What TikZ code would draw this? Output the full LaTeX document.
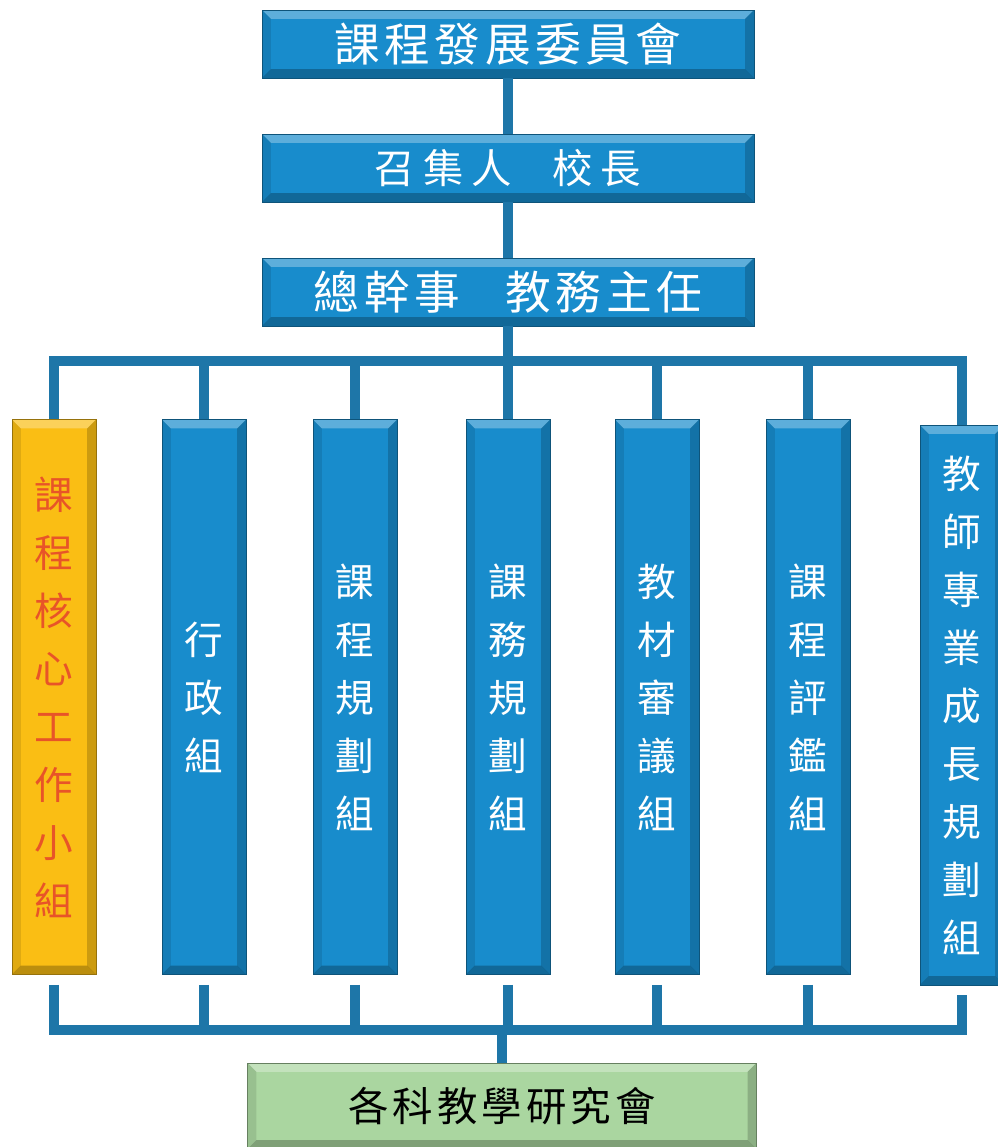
\documentclass[tikz,border=0pt]{standalone}
\usepackage{fontspec}
\newfontfamily\cjk{Noto Sans CJK TC}
\newfontfamily\cjkwide[LetterSpace=10]{Noto Sans CJK TC}
\newfontfamily\cjkwider[LetterSpace=20]{Noto Sans CJK TC}
\definecolor{boxblue}{RGB}{24,140,204}
\definecolor{linkblue}{RGB}{30,118,168}
\definecolor{coregold}{RGB}{250,190,20}
\definecolor{coretext}{RGB}{232,84,40}
\definecolor{resgreen}{RGB}{170,214,160}
\tikzset{
  bevel/.style={path picture={
    \coordinate (pa) at (path picture bounding box.south west);
    \coordinate (pb) at (path picture bounding box.north east);
    \coordinate (pc) at (pa|-pb);
    \coordinate (pd) at (pb|-pa);
    \fill[white, opacity=.3] (pc) -- (pb) -- ([shift={(-5pt,-5pt)}]pb) -- ([shift={(5pt,-5pt)}]pc) -- cycle;
    \fill[black, opacity=.25] (pa) -- (pd) -- ([shift={(-5pt,5pt)}]pd) -- ([shift={(5pt,5pt)}]pa) -- cycle;
    \fill[black, opacity=.1] (pa) -- (pc) -- ([shift={(5pt,-5pt)}]pc) -- ([shift={(5pt,5pt)}]pa) -- cycle;
    \fill[black, opacity=.18] (pd) -- (pb) -- ([shift={(-5pt,-5pt)}]pb) -- ([shift={(-5pt,5pt)}]pd) -- cycle;
  }},
  headbox/.style={rectangle, fill=boxblue, draw=boxblue!60!black, line width=.5pt,
    minimum width=9.84cm, minimum height=1.36cm, text=white, bevel,
    font=\cjkwide\fontsize{26}{30}\selectfont},
  groupbox/.style={rectangle, fill=boxblue, draw=boxblue!60!black, line width=.5pt,
    minimum width=1.68cm, minimum height=11.1cm, inner sep=0pt, text=white, align=center, bevel,
    font=\cjk\fontsize{22}{33}\selectfont},
  link/.style={draw=linkblue, line width=5.5pt}
}
\begin{document}
\begin{tikzpicture}[x=0.02cm, y=-0.02cm]
\fill[white] (0,0) rectangle (998,1147);
\useasboundingbox (0,0) rectangle (998,1147);
% Committee
\node[headbox] (cdc) at (508,44) {課程發展委員會};
\node[headbox, font=\cjkwider\fontsize{23}{28}\selectfont] (conv) at (508,168) {召集人\hspace{1em}校長};
\node[headbox] (gsec) at (508,292) {總幹事\hspace{1em}教務主任};
% Groups
\node[groupbox, fill=coregold, draw=coregold!60!black, text=coretext] (core) at (54,697) {課\\程\\核\\心\\工\\作\\小\\組};
\node[groupbox] (adm) at (204,697) {行\\政\\組};
\node[groupbox] (plan) at (355,697) {課\\程\\規\\劃\\組};
\node[groupbox] (sched) at (508,697) {課\\務\\規\\劃\\組};
\node[groupbox] (mat) at (657,697) {教\\材\\審\\議\\組};
\node[groupbox] (eval) at (808,697) {課\\程\\評\\鑑\\組};
\node[groupbox, minimum height=11.2cm] (prof) at (962,705) {教\\師\\專\\業\\成\\長\\規\\劃\\組};
\node[headbox, fill=resgreen, draw=resgreen!60!black, text=black, minimum width=10.18cm, minimum height=1.72cm,
  font=\cjkwide\fontsize{23}{28}\selectfont] (res) at (502,1106) {各科教學研究會};
% Links
\coordinate (tbar) at (508,361);
\coordinate (bbar) at (508,1030);
\draw[link] (cdc) -- (conv);
\draw[link] (conv) -- (gsec);
\draw[link] (gsec) -- (sched);
\draw[link] (core.north) |- (tbar) -| (prof.north);
\foreach \g in {adm,plan,mat,eval}
  \draw[link] (\g.north) -- (\g.north |- tbar);
\draw[link] ([yshift=-.2cm]core.south) |- (bbar) -| ([yshift=-.2cm]prof.south);
\foreach \g in {adm,plan,sched,mat,eval}
  \draw[link] ([yshift=-.2cm]\g.south) -- (\g.south |- bbar);
\draw[link] (bbar) -- (res.north |- bbar) -- (res.north);
\end{tikzpicture}
\end{document}
